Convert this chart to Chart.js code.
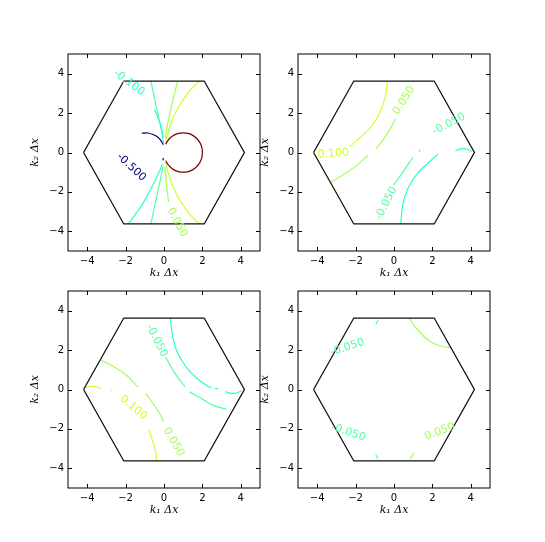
<!DOCTYPE html>
<html>
<head>
<meta charset="utf-8">
<script src="https://cdn.jsdelivr.net/npm/chart.js@4.4.1/dist/chart.umd.min.js"></script>
<style>
  html, body { margin: 0; padding: 0; background: #fff; }
  #fig { position: relative; width: 545px; height: 542px; overflow: hidden; background: #fff; }
  #fig canvas { position: absolute; }
</style>
</head>
<body>
<div id="fig">
  <canvas id="c1" width="272" height="257" style="left:0px;top:34px"></canvas>
  <canvas id="c2" width="272" height="257" style="left:230px;top:34px"></canvas>
  <canvas id="c3" width="272" height="257" style="left:0px;top:271px"></canvas>
  <canvas id="c4" width="272" height="257" style="left:230px;top:271px"></canvas>
</div>
<script>
// contour levels and their (jet) colours
const levels = [-0.5, -0.1, -0.05, 0.05, 0.1, 0.5];
const levelColors = ['#00007f', '#29ffce', '#52ffa4', '#a4ff52', '#ceff29', '#7f0000'];
const tickVals = [-4, -2, 0, 2, 4];
const axisMin = -5, axisMax = 5;

// hexagonal zone boundary
const hexX = [-4.189, -2.094, 2.094, 4.189, 2.094, -2.094, -4.189];
const hexY = [0, 3.628, 3.628, 0, -3.628, -3.628, 0];

// --- panel 1 (top left) ---
const p1Navy = [[-1.15, 0.98], [-0.85, 0.99], [-0.54, 0.9], [-0.3, 0.76], [-0.12, 0.55], [-0.04, 0.39]];
const p1NavyDot = [[-0.06, -0.27], [-0.03, -0.4]];
const p1Circle = [[0.09, 0.42], [0.2, 0.6], [0.35, 0.76], [0.5, 0.87], [0.75, 0.97], [1.0, 1.0], [1.26, 0.97],
  [1.5, 0.87], [1.71, 0.71], [1.87, 0.5], [1.97, 0.26], [2.0, 0], [1.97, -0.26], [1.87, -0.5], [1.71, -0.71],
  [1.5, -0.87], [1.26, -0.97], [1.0, -1.0], [0.75, -0.97], [0.5, -0.87], [0.35, -0.76], [0.2, -0.6], [0.09, -0.42]];
const p1CyanUp = [[-0.49, 2.17], [-0.36, 1.88], [-0.22, 1.52], [-0.11, 1.14], [-0.03, 0.75]];
const p1CyanLow = [[-1.86, -3.63], [-1.45, -3.08], [-1.1, -2.58], [-0.78, -2.02], [-0.5, -1.5], [-0.26, -1.0], [-0.08, -0.6]];
const p1GreenUp = [[-0.68, 3.63], [-0.55, 3.0], [-0.42, 2.4], [-0.28, 1.8], [-0.15, 1.2], [-0.06, 0.72], [-0.02, 0.45]];
const p1GreenLow = [[-0.68, -3.63], [-0.55, -3.0], [-0.42, -2.4], [-0.28, -1.8], [-0.15, -1.2], [-0.06, -0.72]];
const p1LimeUp = [[0.71, 3.63], [0.55, 3.0], [0.4, 2.4], [0.26, 1.8], [0.14, 1.2], [0.06, 0.72]];
const p1LimeLow = [[0.04, -0.72], [0.1, -1.3], [0.16, -1.9], [0.24, -2.5]];
const p1YellowUp = [[1.86, 3.63], [1.4, 3.2], [1.05, 2.75], [0.75, 2.3], [0.5, 1.8], [0.3, 1.3], [0.16, 0.82], [0.08, 0.5]];
const p1YellowLow = [[1.86, -3.63], [1.4, -3.2], [1.05, -2.75], [0.75, -2.3], [0.5, -1.8], [0.3, -1.3], [0.16, -0.82], [0.08, -0.5]];

// --- panel 2 (top right) ---
const p2Yellow = [[-0.35, 3.63], [-0.45, 2.84], [-0.75, 2.0], [-1.18, 1.32], [-1.7, 0.82], [-2.31, 0.3]];
const p2LimeLow = [[-3.32, -1.52], [-2.66, -1.13], [-1.97, -0.68], [-1.36, -0.15]];
const p2LimeUp = [[-0.95, 0.17], [-0.57, 0.64], [-0.23, 1.15], [0.08, 1.7]];
const p2Green = [[-0.02, -1.64], [0.3, -1.22], [0.64, -0.74], [0.99, -0.24]];
const p2GreenDot = [[1.3, 0.05], [1.37, 0.14]];
const p2Cyan = [[0.35, -3.63], [0.47, -2.57], [0.73, -1.81], [1.16, -1.13], [1.68, -0.62], [2.29, -0.08]];
const p2CyanArc = [[3.2, 0.08], [3.4, 0.17], [3.6, 0.2], [3.85, 0.15], [4.05, 0.05]];

// --- panel 3 (bottom left) ---
const p3Cyan = [[0.33, 3.63], [0.47, 2.57], [0.73, 1.81], [1.16, 1.14], [1.68, 0.6], [2.29, 0.17], [2.47, 0.09]];
const p3CyanDash = [[2.64, 0.05], [2.81, 0.04]];
const p3CyanArc = [[3.2, -0.1], [3.4, -0.18], [3.6, -0.2], [3.85, -0.15], [4.05, -0.05]];
const p3GreenUp = [[0.09, 1.65], [0.47, 0.97], [0.9, 0.38], [1.1, 0.15]];
const p3GreenLow = [[1.34, -0.12], [1.86, -0.41], [2.55, -0.8], [3.25, -1.0]];
const p3LimeUp = [[-3.32, 1.51], [-2.66, 1.18], [-1.96, 0.72], [-1.35, 0.13]];
const p3LimeLow = [[-0.95, -0.21], [-0.57, -0.71], [-0.23, -1.22], [-0.02, -1.64]];
const p3YellowArc = [[-4.08, 0.1], [-3.7, 0.17], [-3.26, 0.05]];
const p3YellowDot = [[-2.78, -0.02], [-2.7, -0.06]];
const p3YellowLow = [[-0.78, -2.03], [-0.61, -2.58], [-0.45, -3.08], [-0.38, -3.63]];

// --- panel 4 (bottom right) ---
const p4Lime = [[0.82, 3.63], [1.0, 3.3], [1.25, 3.02], [1.68, 2.58], [2.2, 2.28], [2.55, 2.17], [2.96, 2.13]];
const p4LimeDash = [[0.82, -3.55], [1.05, -3.2]];
const p4GreenDashUp = [[-0.95, 3.3], [-0.82, 3.52]];
const p4GreenDashLow = [[-0.95, -3.3], [-0.83, -3.52]];

// contour label spots: [level, x, y, rotation in degrees]
const p1Labels = [[-0.1, -1.82, 3.54, 37], [-0.5, -1.70, -0.75, 43], [0.05, 0.69, -3.55, 63]];
const p2Labels = [[0.1, -3.16, -0.06, -4], [0.05, 0.52, 2.64, -58], [-0.05, -0.4, -2.58, -63], [-0.05, 2.86, 1.44, -27]];
const p3Labels = [[-0.05, -0.38, 2.48, 63], [0.1, -1.6, -0.92, 40], [0.05, 0.5, -2.66, 60]];
const p4Labels = [[-0.05, -2.43, 2.14, -18], [-0.05, -2.38, -2.19, 18], [0.05, 2.38, -2.14, -20]];

function colorFor(level) {
    return levelColors[levels.indexOf(level)];
}

function fmtTick(v) {
    return v < 0 ? '\u2212' + Math.abs(v) : String(v);
}

// frame box and inward tick marks on all four sides
const frameTicks = {
    id: 'frameTicks',
    afterDraw(chart) {
        const { ctx, chartArea: a, scales: { x, y } } = chart;
        ctx.save();
        ctx.strokeStyle = '#000';
        ctx.lineWidth = 1;
        ctx.strokeRect(a.left, a.top, a.right - a.left, a.bottom - a.top);
        ctx.beginPath();
        tickVals.forEach(v => {
            const px = Math.round(x.getPixelForValue(v)) + 0.5;
            const py = Math.round(y.getPixelForValue(v)) + 0.5;
            ctx.moveTo(px, a.bottom); ctx.lineTo(px, a.bottom - 4);
            ctx.moveTo(px, a.top); ctx.lineTo(px, a.top + 4);
            ctx.moveTo(a.left, py); ctx.lineTo(a.left + 4, py);
            ctx.moveTo(a.right, py); ctx.lineTo(a.right - 4, py);
        });
        ctx.stroke();
        ctx.restore();
    }
};

// inline contour labels
function labelPlugin(labels) {
    return {
        id: 'contourLabels',
        afterDatasetsDraw(chart) {
            const { ctx, scales: { x, y } } = chart;
            ctx.save();
            ctx.font = '11px "DejaVu Sans"';
            ctx.textAlign = 'center';
            ctx.textBaseline = 'middle';
            labels.forEach(([level, lx, ly, rot]) => {
                ctx.save();
                ctx.translate(x.getPixelForValue(lx), y.getPixelForValue(ly));
                ctx.rotate(rot * Math.PI / 180);
                ctx.fillStyle = colorFor(level);
                ctx.fillText(level.toFixed(3), 0, 0);
                ctx.restore();
            });
            ctx.restore();
        }
    };
}

function buildPanel(id, segments, labels) {
    const datasets = [{
        data: hexX.map((hx, i) => ({ x: hx, y: hexY[i] })),
        borderColor: '#111',
        borderWidth: 1.3,
        showLine: true,
        tension: 0
    }];
    segments.forEach(([level, pts]) => {
        datasets.push({
            data: pts.map(p => ({ x: p[0], y: p[1] })),
            borderColor: colorFor(level),
            borderWidth: 1.2,
            showLine: true,
            tension: 0.4
        });
    });

    const tickFont = { family: 'DejaVu Sans', size: 10 };
    const titleFont = { family: 'DejaVu Serif', style: 'italic', size: 11 };

    new Chart(document.getElementById(id), {
        type: 'scatter',
        data: { datasets },
        options: {
            responsive: false,
            animation: false,
            devicePixelRatio: 1,
            elements: { point: { radius: 0, hoverRadius: 0 } },
            layout: { padding: { top: 20, right: 12, left: 0, bottom: 0 } },
            plugins: { legend: { display: false }, tooltip: { enabled: false } },
            scales: {
                x: {
                    type: 'linear', position: 'bottom', min: axisMin, max: axisMax,
                    afterBuildTicks: s => { s.ticks = tickVals.map(v => ({ value: v })); },
                    afterFit: s => { s.height = 40; },
                    grid: { display: false, drawTicks: false, tickLength: 0 },
                    border: { display: false },
                    ticks: { font: tickFont, color: '#000', padding: 4, maxRotation: 0, callback: fmtTick },
                    title: { display: true, text: 'k\u2081 \u0394x', font: titleFont, color: '#000', padding: { top: 0, bottom: 11 } }
                },
                y: {
                    type: 'linear', position: 'left', min: axisMin, max: axisMax,
                    afterBuildTicks: s => { s.ticks = tickVals.map(v => ({ value: v })); },
                    afterFit: s => { s.width = 68; },
                    grid: { display: false, drawTicks: false, tickLength: 0 },
                    border: { display: false },
                    ticks: { font: tickFont, color: '#000', padding: 4, callback: fmtTick },
                    title: { display: true, text: 'k\u2082 \u0394x', font: titleFont, color: '#000', padding: { top: 29, bottom: 0 } }
                }
            }
        },
        plugins: [frameTicks, labelPlugin(labels)]
    });
}

buildPanel('c1', [
    [-0.5, p1Navy], [-0.5, p1NavyDot], [0.5, p1Circle],
    [-0.1, p1CyanUp], [-0.1, p1CyanLow],
    [-0.05, p1GreenUp], [-0.05, p1GreenLow],
    [0.05, p1LimeUp], [0.05, p1LimeLow],
    [0.1, p1YellowUp], [0.1, p1YellowLow]
], p1Labels);

buildPanel('c2', [
    [0.1, p2Yellow], [0.05, p2LimeLow], [0.05, p2LimeUp],
    [-0.05, p2Green], [-0.05, p2GreenDot],
    [-0.1, p2Cyan], [-0.1, p2CyanArc]
], p2Labels);

buildPanel('c3', [
    [-0.1, p3Cyan], [-0.1, p3CyanDash], [-0.1, p3CyanArc],
    [-0.05, p3GreenUp], [-0.05, p3GreenLow],
    [0.05, p3LimeUp], [0.05, p3LimeLow],
    [0.1, p3YellowArc], [0.1, p3YellowDot], [0.1, p3YellowLow]
], p3Labels);

buildPanel('c4', [
    [0.05, p4Lime], [0.05, p4LimeDash],
    [-0.05, p4GreenDashUp], [-0.05, p4GreenDashLow]
], p4Labels);
</script>
</body>
</html>
